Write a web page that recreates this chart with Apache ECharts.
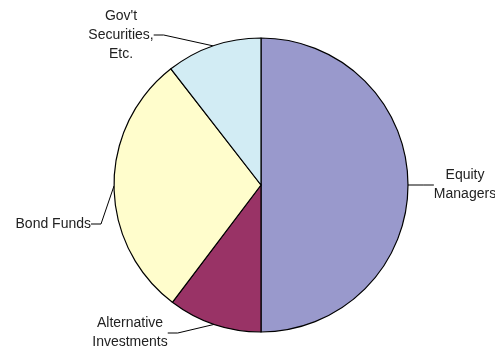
<!DOCTYPE html>
<html>
<head>
<meta charset="utf-8">
<script src="https://cdn.jsdelivr.net/npm/echarts@6/dist/echarts.min.js"></script>
<style>html,body{margin:0;padding:0;background:#fff}#c{width:495px;height:352px}</style>
</head>
<body>
<div id="c"></div>
<script>
var categories = ["Equity\nManagers", "Alternative\nInvestments", "Bond Funds", "Gov't\nSecurities,\nEtc."];
var values = [50.0, 10.3, 29.2, 10.5];
var colors = ["#9999CC", "#993366", "#FFFDCC", "#D2ECF4"];
var labelSpots = [
  {x: 465, y: 185, align: "center"},
  {x: 130, y: 333, align: "center"},
  {x: 91, y: 224, align: "right"},
  {x: 121, y: 35, align: "center"}
];
var chart = echarts.init(document.getElementById('c'));
chart.setOption({
  animation: false,
  series: [{
    type: 'pie',
    center: [261, 185],
    radius: 147,
    startAngle: 90,
    clockwise: true,
    data: categories.map(function (n, i) {
      return {name: n, value: values[i], itemStyle: {color: colors[i]}};
    }),
    itemStyle: {borderColor: '#000', borderWidth: 1.2},
    emphasis: {disabled: true},
    label: {
      show: true,
      position: 'outside',
      formatter: '{b}',
      fontFamily: 'Liberation Sans, Arial, sans-serif',
      fontSize: 14,
      lineHeight: 19,
      color: '#222',
      align: 'center',
      overflow: 'none'
    },
    labelLine: {show: true, length: 10, length2: 10, lineStyle: {color: '#000', width: 1}},
    labelLayout: function (p) {
      var s = labelSpots[p.dataIndex];
      return {x: s.x, y: s.y, align: s.align, verticalAlign: 'middle'};
    }
  }]
});
</script>
</body>
</html>
